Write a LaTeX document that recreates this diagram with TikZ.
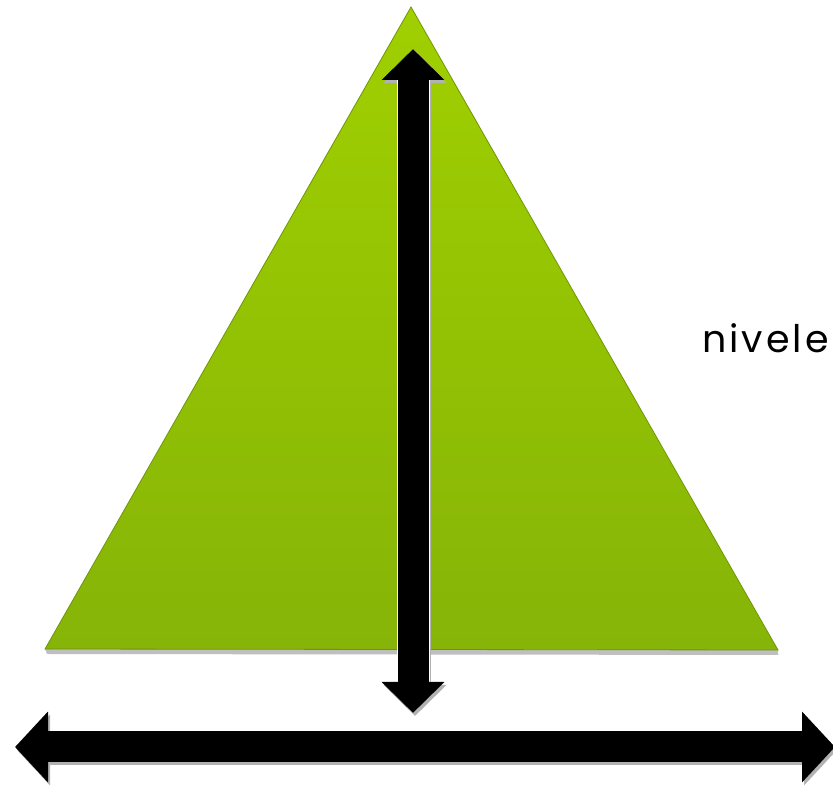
\documentclass[tikz,border=0pt]{standalone}
\usepackage{fontspec}
\setmainfont{Poppins}
\usepackage{tikz}
\usetikzlibrary{arrows.meta}
\definecolor{verdeA}{RGB}{160,208,0}
\definecolor{verdeB}{RGB}{134,180,8}
\definecolor{verdeC}{RGB}{110,150,10}
\tikzset{
  piramide/.style={top color=verdeA, bottom color=verdeB, draw=verdeC, line width=0.8pt, line join=miter},
  sombra/.style={fill=black, opacity=0.25},
  flechaV/.style={line width=31pt, {Triangle[length=31pt,width=61pt]}-{Triangle[length=31pt,width=61pt]}},
  flechaH/.style={line width=31pt, {Triangle[length=33pt,width=69pt]}-{Triangle[length=33pt,width=69pt]}},
  rotulo/.style={font=\fontsize{38}{40}\selectfont\addfontfeatures{LetterSpace=8}, inner sep=0pt, text=black},
}
\begin{document}
\begin{tikzpicture}[x=1pt,y=1pt]
  \useasboundingbox (0,0) rectangle (833,787);
  \clip (0,0) rectangle (833,787);
  \fill[white] (0,0) rectangle (833,787);
  % piramide
  \coordinate (cima) at (411,780);
  \coordinate (izq) at (45,138);
  \coordinate (der) at (778,137);
  \path[sombra] ([shift={(2,-5)}]izq) -- ([shift={(2,-5)}]der) -- ([shift={(0,-5)}]der) -- (der) -- (izq) -- cycle;
  \path[piramide] (cima) -- (der) -- (izq) -- cycle;
  % flechas
  \coordinate (arriba) at (413,738);
  \coordinate (abajo) at (413,74);
  \coordinate (oeste) at (15,40);
  \coordinate (este) at (835,40);
  \draw[flechaV, black!30, transform canvas={shift={(2pt,-3pt)}}] (arriba) -- (abajo);
  \draw[flechaV, white, line width=33pt] (arriba) -- (abajo);
  \draw[flechaV] (arriba) -- (abajo);
  \draw[flechaH, black!30, transform canvas={shift={(2pt,-3pt)}}] (oeste) -- (este);
  \draw[flechaH] (oeste) -- (este);
  \node[rotulo, anchor=base west] (nivel) at (702,434) {nivele};
\end{tikzpicture}
\end{document}
